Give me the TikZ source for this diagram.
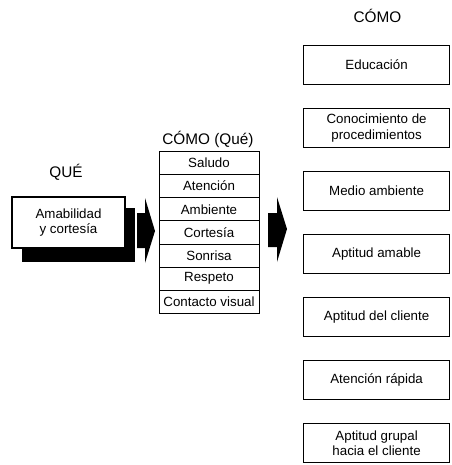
\documentclass[tikz,border=0pt]{standalone}
\usepackage{fontspec}
\setmainfont{Liberation Sans}
\usepackage{tikz}
\usetikzlibrary{positioning}

\begin{document}
\begin{tikzpicture}[x=0.75pt, y=-0.75pt,
    every node/.style={font=\fontsize{10}{11.5}\selectfont},
    heading/.style={font=\fontsize{11.5}{13}\selectfont},
    itembox/.style={draw, line width=0.6pt, minimum width=75pt, minimum height=17.36pt, inner sep=0pt, anchor=north},
    howbox/.style={draw, line width=0.9pt, minimum width=109.5pt, minimum height=29.25pt, align=center, inner sep=1pt, anchor=north west}]

\useasboundingbox (0,0) rectangle (451,465);

% left column
\node[heading] (que) at (66,172) {QUÉ};
\fill (22,208) rectangle (135,262);
\node[draw, fill=white, line width=0.9pt, minimum width=84.75pt, minimum height=38.25pt, align=center] (amab) at (68.5,222.5) {Amabilidad\\y cortesía};

% first block arrow
\fill (137,213) -- (145,213) -- (145,198) -- (155,231) -- (145,263) -- (145,248) -- (137,248) -- cycle;

% middle table
\node[heading] (comoque) at (208,139) {CÓMO (Qué)};
\foreach \txt [count=\i from 0] in {Saludo, Atención, Ambiente, Cortesía, Sonrisa, Respeto, Contacto visual} {
    \node[itembox] (q\i) at (209, 151+23.14*\i) {\txt};
}

% second block arrow
\fill (268,213) -- (277,213) -- (277,197) -- (287,229) -- (277,262) -- (277,247) -- (268,247) -- cycle;

% right column
\node[heading] (como) at (377.5,16) {CÓMO};
\foreach \txt [count=\i from 0] in {Educación, {Conocimiento de\\procedimientos}, Medio ambiente, Aptitud amable, Aptitud del cliente, Atención rápida, {Aptitud grupal\\hacia el cliente}} {
    \node[howbox] (c\i) at (303, 45+63*\i) {\txt};
}

\end{tikzpicture}
\end{document}
